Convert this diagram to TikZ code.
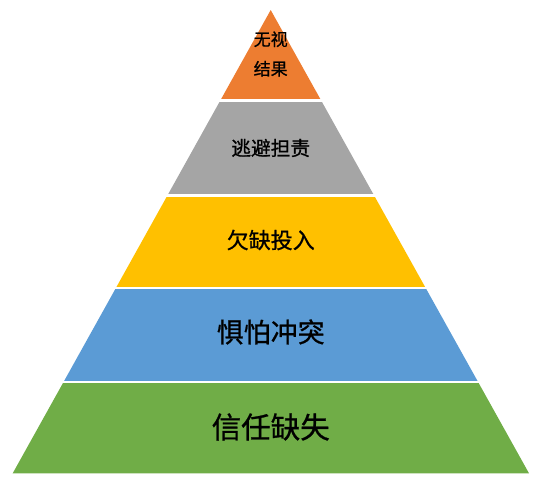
\documentclass[tikz,border=0pt]{standalone}
\usepackage{fontspec}
\newfontfamily\cjk[FakeBold=0.8]{Noto Sans CJK SC}
\usetikzlibrary{calc}
\definecolor{lvA}{HTML}{ED7D31}
\definecolor{lvB}{HTML}{A5A5A5}
\definecolor{lvC}{HTML}{FFC000}
\definecolor{lvD}{HTML}{5B9BD5}
\definecolor{lvE}{HTML}{70AD47}
\begin{document}
\begin{tikzpicture}[x=1pt,y=-1pt,
  lbl/.style={font=\cjk, text=black, inner sep=0pt, align=center},
  gapline/.style={draw=white, line width=2.4pt}]
\useasboundingbox (0,0) rectangle (536,479);
\coordinate (A) at (270.7,10);
\coordinate (L) at (12.7,473.3);
\coordinate (R) at (529,473.3);
\foreach \a/\b/\c in {0/0.195/lvA, 0.195/0.4/lvB, 0.4/0.6/lvC, 0.6/0.8025/lvD, 0.8025/1/lvE}{
  \fill[\c] ($(A)!\a!(L)$) -- ($(A)!\b!(L)$) -- ($(A)!\b!(R)$) -- ($(A)!\a!(R)$) -- cycle;
}
\foreach \b in {0.195, 0.4, 0.6, 0.8025}{
  \draw[gapline] ($(A)!\b!(L)+(-4,0)$) -- ($(A)!\b!(R)+(4,0)$);
}
\node[lbl, font=\cjk\fontsize{17}{29.5}\selectfont] (t1) at (270.7,54) {无视\\结果};
\node[lbl, font=\cjk\fontsize{19.7}{24}\selectfont] (t2) at (270.7,148) {逃避担责};
\node[lbl, font=\cjk\fontsize{22}{26}\selectfont] (t3) at (270.7,240) {欠缺投入};
\node[lbl, font=\cjk\fontsize{27}{32}\selectfont] (t4) at (270.7,332) {惧怕冲突};
\node[lbl, font=\cjk\fontsize{29.5}{35}\selectfont] (t5) at (270.7,427) {信任缺失};
\end{tikzpicture}
\end{document}
